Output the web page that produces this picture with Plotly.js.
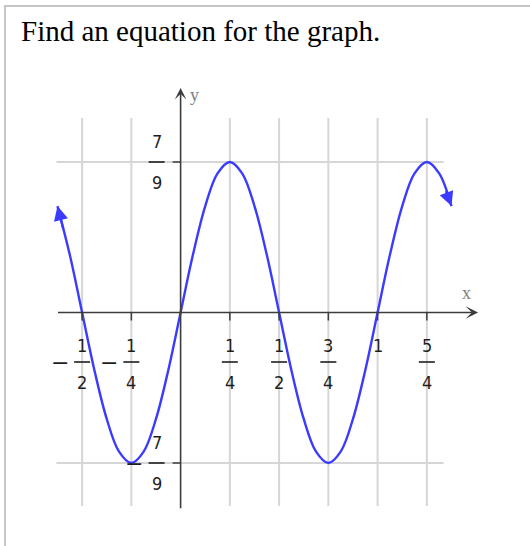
<!DOCTYPE html>
<html>
<head>
<meta charset="utf-8">
<script src="https://cdn.plot.ly/plotly-3.0.1.min.js"></script>
<style>
  html, body { margin: 0; padding: 0; background: #ffffff; }
  #wrap { position: relative; width: 530px; height: 546px; overflow: hidden; }
  #chart { position: absolute; left: 0; top: 0; width: 530px; height: 546px; }
  #frame { position: absolute; left: 4px; top: 5px; width: 540px; height: 560px;
           border-left: 2px solid #c6c6c6; border-top: 2px solid #c6c6c6; pointer-events: none; }
</style>
</head>
<body>
<div id="wrap">
  <div id="chart"></div>
  <div id="frame"></div>
</div>
<script>
// ---- data ----
const curveX = [-0.625, -0.5625, -0.5, -0.4375, -0.375, -0.3125, -0.25, -0.1875, -0.125, -0.0625,
                0, 0.0625, 0.125, 0.1875, 0.25, 0.3125, 0.375, 0.4375, 0.5, 0.5625,
                0.625, 0.6875, 0.75, 0.8125, 0.875, 0.9375, 1, 1.0625, 1.125, 1.1875,
                1.25, 1.3125, 1.375];
const curveY = [0.55, 0.298, 0, -0.298, -0.55, -0.719, -0.778, -0.719, -0.55, -0.298,
                0, 0.298, 0.55, 0.719, 0.778, 0.719, 0.55, 0.298, 0, -0.298,
                -0.55, -0.719, -0.778, -0.719, -0.55, -0.298, 0, 0.298, 0.55, 0.719,
                0.778, 0.719, 0.55];

const xTickVals = [-0.5, -0.25, 0.25, 0.5, 0.75, 1, 1.25];
const xTickNums = ['1', '1', '1', '1', '3', '1', '5'];
const xTickDens = ['2', '4', '4', '2', '4', '', '4'];
const xTickNeg  = [true, true, false, false, false, false, false];

const yTickVals = [7/9, -7/9];
const yTickNums = ['7', '7'];
const yTickDens = ['9', '9'];
const yTickNeg  = [false, true];

const gridXRange = [-0.63, 1.335];
const gridYRange = [-1.0, 1.005];
const xAxisRange = [-0.63, 1.51];
const yAxisRange = [-1.02, 1.16];

const titleText = 'Find an equation for the graph.';
const xAxisName = 'x';
const yAxisName = 'y';

// ---- styles ----
const blue = '#3b3bff';
const gridColor = '#d6d6d6';
const axisColor = '#3c3c3c';
const labelColor = '#1e1e1e';
const labelFont = { family: 'DejaVu Sans Condensed, DejaVu Sans, sans-serif', size: 18, color: labelColor };
const minusFont = { family: 'DejaVu Sans, sans-serif', size: 22, color: labelColor };

const shapes = [];
const annotations = [];

// grid lines
xTickVals.forEach(v => {
  shapes.push({ type: 'line', xref: 'x', yref: 'y', x0: v, x1: v, y0: gridYRange[0], y1: gridYRange[1],
                line: { color: gridColor, width: 2 }, layer: 'below' });
});
yTickVals.forEach(v => {
  shapes.push({ type: 'line', xref: 'x', yref: 'y', x0: gridXRange[0], x1: gridXRange[1], y0: v, y1: v,
                line: { color: gridColor, width: 2 }, layer: 'below' });
});

// axes with arrowheads
annotations.push({ x: xAxisRange[1], y: 0, ax: xAxisRange[0], ay: 0, xref: 'x', yref: 'y', axref: 'x', ayref: 'y',
                   text: '', showarrow: true, arrowhead: 3, arrowsize: 1.3, arrowwidth: 1.6, arrowcolor: axisColor, standoff: 0 });
annotations.push({ x: 0, y: yAxisRange[1], ax: 0, ay: yAxisRange[0], xref: 'x', yref: 'y', axref: 'x', ayref: 'y',
                   text: '', showarrow: true, arrowhead: 3, arrowsize: 1.2, arrowwidth: 1.6, arrowcolor: axisColor, standoff: 0 });

// ticks
xTickVals.forEach(v => {
  shapes.push({ type: 'line', xref: 'x', yref: 'y', ysizemode: 'pixel', yanchor: 0, x0: v, x1: v, y0: 0, y1: -8,
                line: { color: axisColor, width: 1.5 } });
});
yTickVals.forEach(v => {
  shapes.push({ type: 'line', xref: 'x', yref: 'y', xsizemode: 'pixel', xanchor: 0, x0: -8, x1: 0, y0: v, y1: v,
                line: { color: axisColor, width: 1.5 } });
});

// x tick labels as stacked fractions
xTickVals.forEach((v, i) => {
  annotations.push({ x: v, y: 0, xref: 'x', yref: 'y', text: xTickNums[i], showarrow: false,
                     xanchor: 'center', yanchor: 'middle', yshift: -33, font: labelFont });
  if (xTickDens[i]) {
    annotations.push({ x: v, y: 0, xref: 'x', yref: 'y', text: xTickDens[i], showarrow: false,
                       xanchor: 'center', yanchor: 'middle', yshift: -70, font: labelFont });
    shapes.push({ type: 'line', xref: 'x', yref: 'y', xsizemode: 'pixel', ysizemode: 'pixel', xanchor: v, yanchor: 0,
                  x0: -8, x1: 8, y0: -49.5, y1: -49.5, line: { color: labelColor, width: 1.6 } });
  }
  if (xTickNeg[i]) {
    annotations.push({ x: v, y: 0, xref: 'x', yref: 'y', text: '\u2212', showarrow: false,
                       xanchor: 'center', yanchor: 'middle', xshift: -22, yshift: -49.5, font: minusFont });
  }
});

// y tick labels as stacked fractions
yTickVals.forEach((v, i) => {
  annotations.push({ x: 0, y: v, xref: 'x', yref: 'y', text: yTickNums[i], showarrow: false,
                     xanchor: 'center', yanchor: 'middle', xshift: -24, yshift: 20.5, font: labelFont });
  annotations.push({ x: 0, y: v, xref: 'x', yref: 'y', text: yTickDens[i], showarrow: false,
                     xanchor: 'center', yanchor: 'middle', xshift: -24, yshift: -20.8, font: labelFont });
  shapes.push({ type: 'line', xref: 'x', yref: 'y', xsizemode: 'pixel', ysizemode: 'pixel', xanchor: 0, yanchor: v,
                x0: -32, x1: -16, y0: 0, y1: 0, line: { color: labelColor, width: 1.6 } });
  if (yTickNeg[i]) {
    annotations.push({ x: 0, y: v, xref: 'x', yref: 'y', text: '\u2212', showarrow: false,
                       xanchor: 'center', yanchor: 'middle', xshift: -47, yshift: 0, font: minusFont });
  }
});

// axis names
annotations.push({ x: xAxisRange[1], y: 0, xref: 'x', yref: 'y', text: xAxisName, showarrow: false,
                   xanchor: 'center', yanchor: 'middle', xshift: -12, yshift: 20,
                   font: { family: 'Liberation Serif, Times New Roman, serif', size: 18, color: '#808080' } });
annotations.push({ x: 0, y: yAxisRange[1], xref: 'x', yref: 'y', text: yAxisName, showarrow: false,
                   xanchor: 'center', yanchor: 'middle', xshift: 14, yshift: -7,
                   font: { family: 'Liberation Serif, Times New Roman, serif', size: 18, color: '#808080' } });

// arrowheads at curve ends (direction taken from the neighbouring points)
const n = curveX.length;
function endArrow(i, j) {
  const f = 0.5;
  annotations.push({ x: curveX[i], y: curveY[i], ax: curveX[i] + f * (curveX[j] - curveX[i]), ay: curveY[i] + f * (curveY[j] - curveY[i]),
                     xref: 'x', yref: 'y', axref: 'x', ayref: 'y', text: '', showarrow: true,
                     arrowhead: 2, arrowsize: 1.3, arrowwidth: 2.2, arrowcolor: blue, standoff: 0 });
}
endArrow(0, 1);
endArrow(n - 1, n - 2);

const trace = {
  x: curveX, y: curveY, type: 'scatter', mode: 'lines',
  line: { color: blue, width: 2.4, shape: 'spline', smoothing: 1 },
  hoverinfo: 'skip'
};

// pixel mapping: x=0 at 180.6px, 197 px/unit; y=0 at 312.5px, 193.5 px/unit
const L = 40, R = 500, T = 80, B = 520;
const layout = {
  width: 530, height: 546,
  margin: { l: L, r: 530 - R, t: T, b: 546 - B, pad: 0 },
  paper_bgcolor: '#ffffff', plot_bgcolor: '#ffffff',
  showlegend: false,
  title: { text: titleText, x: 21 / 530, xref: 'container', xanchor: 'left',
           y: 1 - 30.5 / 546, yref: 'container', yanchor: 'middle',
           font: { family: 'Liberation Serif, Times New Roman, serif', size: 29, color: '#000000' } },
  xaxis: { range: [(L - 180.6) / 197, (R - 180.6) / 197], showgrid: false, zeroline: false, showline: false,
           showticklabels: false, ticks: '', fixedrange: true },
  yaxis: { range: [(312.5 - B) / 193.5, (312.5 - T) / 193.5], showgrid: false, zeroline: false, showline: false,
           showticklabels: false, ticks: '', fixedrange: true },
  shapes: shapes,
  annotations: annotations
};

Plotly.newPlot('chart', [trace], layout, { staticPlot: true, displayModeBar: false });
</script>
</body>
</html>
